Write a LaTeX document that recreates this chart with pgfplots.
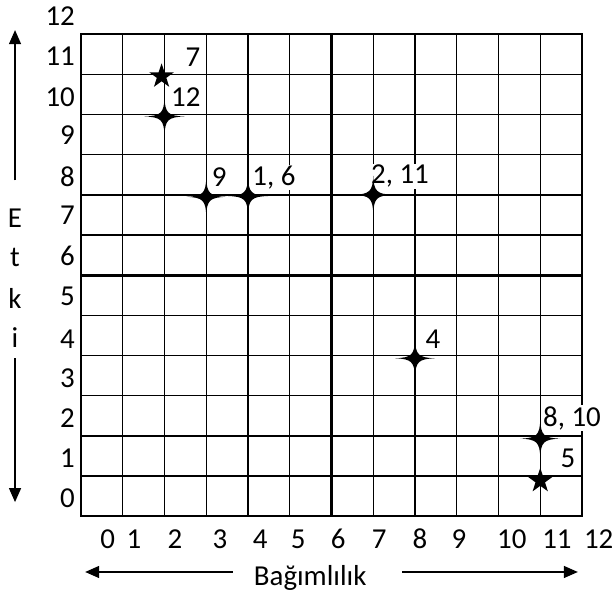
\documentclass[border=0pt]{standalone}
\usepackage{fontspec}
\setmainfont{Carlito}
\usepackage{pgfplots}
\pgfplotsset{compat=1.18}
\usetikzlibrary{arrows.meta}
\pgfdeclareplotmark{sparkle}{%
  \pgfpathmoveto{\pgfqpoint{0bp}{19bp}}%
  \pgfpathcurveto{\pgfqpoint{0.6bp}{3.5bp}}{\pgfqpoint{3.5bp}{0.6bp}}{\pgfqpoint{20bp}{0bp}}%
  \pgfpathcurveto{\pgfqpoint{3.5bp}{-0.6bp}}{\pgfqpoint{0.6bp}{-3.5bp}}{\pgfqpoint{0bp}{-19bp}}%
  \pgfpathcurveto{\pgfqpoint{-0.6bp}{-3.5bp}}{\pgfqpoint{-3.5bp}{-0.6bp}}{\pgfqpoint{-20bp}{0bp}}%
  \pgfpathcurveto{\pgfqpoint{-3.5bp}{0.6bp}}{\pgfqpoint{-0.6bp}{3.5bp}}{\pgfqpoint{0bp}{19bp}}%
  \pgfpathclose\pgfusepath{fill}}
\pgfdeclareplotmark{fivestar}{%
  \pgfpathmoveto{\pgfqpoint{0bp}{13bp}}%
  \pgfpathlineto{\pgfqpoint{2.94bp}{4.05bp}}%
  \pgfpathlineto{\pgfqpoint{12.36bp}{4.02bp}}%
  \pgfpathlineto{\pgfqpoint{4.76bp}{-1.55bp}}%
  \pgfpathlineto{\pgfqpoint{7.64bp}{-10.52bp}}%
  \pgfpathlineto{\pgfqpoint{0bp}{-5bp}}%
  \pgfpathlineto{\pgfqpoint{-7.64bp}{-10.52bp}}%
  \pgfpathlineto{\pgfqpoint{-4.76bp}{-1.55bp}}%
  \pgfpathlineto{\pgfqpoint{-12.36bp}{4.02bp}}%
  \pgfpathlineto{\pgfqpoint{-2.94bp}{4.05bp}}%
  \pgfpathclose\pgfusepath{fill}}
\newcommand\bigf{\fontsize{29}{32}\selectfont}
\begin{document}
\begin{tikzpicture}
\begin{axis}[
  scale only axis, width=501bp, height=482bp,
  xmin=0, xmax=12, ymin=0, ymax=12,
  axis line style={line width=1.4bp, black},
  xtick={0.64,1.27,2.25,3.33,4.29,5.20,6.16,7.14,8.12,9.05,10.32,11.40},
  xticklabels={0,1,2,3,4,5,6,7,8,9,10,11},
  ytick={0.45,1.45,2.44,3.44,4.41,5.48,6.47,7.49,8.46,9.48,10.43,11.45},
  yticklabels={0,1,2,3,4,5,6,7,8,9,10,11},
  minor xtick={0,1,...,12}, minor ytick={0,1,...,12},
  xminorgrids=true, yminorgrids=true, xmajorgrids=false, ymajorgrids=false,
  minor grid style={line width=1.4bp, black},
  major tick length=0pt, minor tick length=0pt,
  tick label style={font=\bigf, inner sep=0pt, text=black},
  xticklabel style={anchor=base, yshift=-32bp},
  yticklabel style={anchor=east, xshift=-6bp},
  clip=false,
]
\draw[line width=3bp] (axis cs:6,0) -- (axis cs:6,12);
\draw[line width=3bp] (axis cs:0,6) -- (axis cs:12,6);
\begin{scope}[every node/.style={font=\bigf, fill=white, inner sep=1bp}]
\node at (axis cs:2.68,11.43) {7};
\node at (axis cs:2.51,10.43) {12};
\node at (axis cs:3.31,8.44) {9};
\node at (axis cs:4.62,8.44) {1, 6};
\node at (axis cs:7.64,8.46) {2, 11};
\node at (axis cs:8.43,4.40) {4};
\node at (axis cs:11.76,2.44) {8, 10};
\node at (axis cs:11.66,1.44) {5};
\end{scope}
\addplot[only marks, mark=sparkle, black] coordinates {(2,9.95) (3,7.95) (4,7.97) (7,8) (8,3.93) (11,1.93)};
\addplot[only marks, mark=fivestar, black] coordinates {(1.93,10.95) (11,0.88)};
\begin{scope}[every node/.style={font=\bigf, inner sep=0pt}]
\node[anchor=east, xshift=-6bp] at (axis cs:0,12.45) {12};
\node[anchor=base, yshift=-32bp] at (axis cs:12.40,0) {12};
\node at (axis cs:-1.58,7.42) {E};
\node at (axis cs:-1.58,6.45) {t};
\node at (axis cs:-1.58,5.43) {k};
\node at (axis cs:-1.58,4.45) {i};
\node[anchor=base] at (axis cs:5.49,-1.72) {Bağımlılık};
\end{scope}
\draw[line width=1.3bp, -{Triangle[length=14bp,width=12bp]}] (axis cs:-1.58,8.36) -- (axis cs:-1.58,12.10);
\draw[line width=1.3bp, -{Triangle[length=14bp,width=12bp]}] (axis cs:-1.58,3.93) -- (axis cs:-1.58,0.35);
\draw[line width=1.3bp, -{Triangle[length=14bp,width=12bp]}] (axis cs:3.64,-1.39) -- (axis cs:0.10,-1.39);
\draw[line width=1.3bp, -{Triangle[length=14bp,width=12bp]}] (axis cs:7.69,-1.39) -- (axis cs:11.90,-1.39);
\coordinate (bl) at (axis cs:-1.94,-1.94);
\coordinate (tr) at (axis cs:12.79,12.85);
\end{axis}
\pgfresetboundingbox
\useasboundingbox (bl) rectangle (tr);
\end{tikzpicture}
\end{document}
